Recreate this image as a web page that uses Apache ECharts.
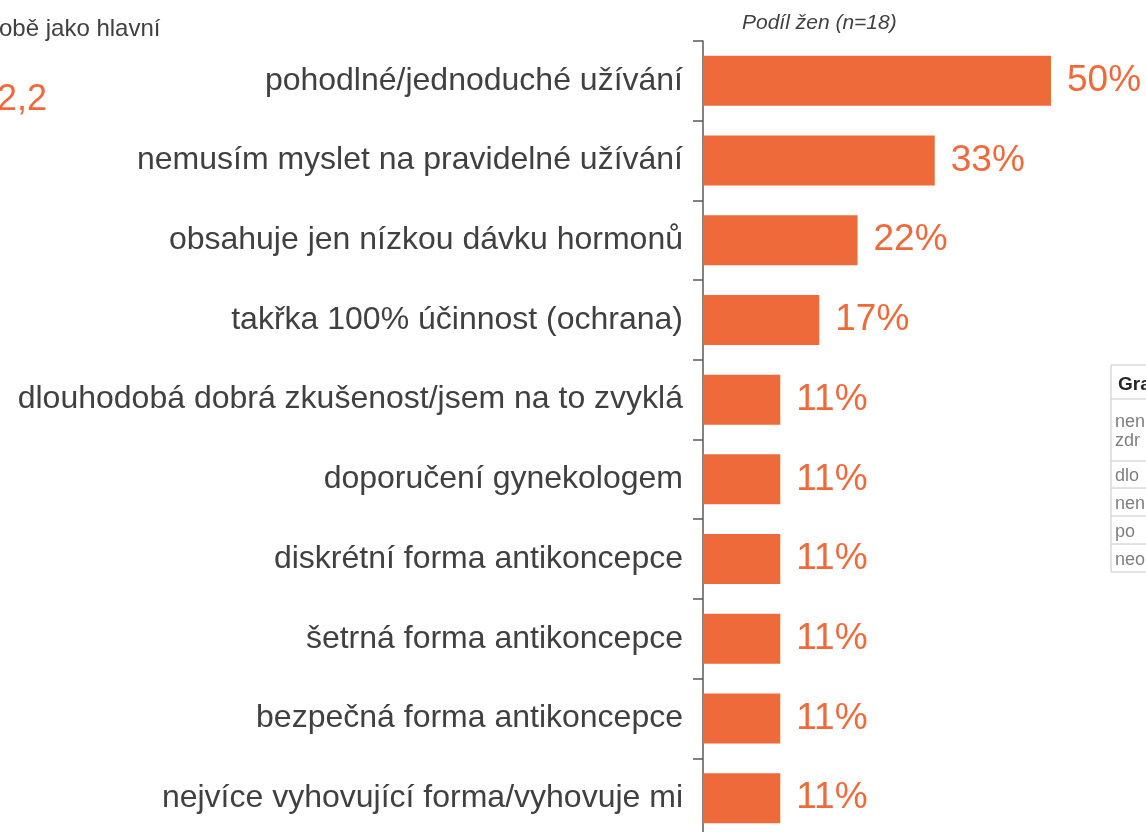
<!DOCTYPE html>
<html>
<head>
<meta charset="utf-8">
<script src="https://cdn.jsdelivr.net/npm/echarts@6/dist/echarts.min.js"></script>
<style>
  html, body { margin: 0; padding: 0; background: #fff; }
  #chart { width: 1146px; height: 832px; }
</style>
</head>
<body>
<div id="chart"></div>
<script>
// categories, top to bottom
var categories = [
    'pohodlné/jednoduché užívání',
    'nemusím myslet na pravidelné užívání',
    'obsahuje jen nízkou dávku hormonů',
    'takřka 100% účinnost (ochrana)',
    'dlouhodobá dobrá zkušenost/jsem na to zvyklá',
    'doporučení gynekologem',
    'diskrétní forma antikoncepce',
    'šetrná forma antikoncepce',
    'bezpečná forma antikoncepce',
    'nejvíce vyhovující forma/vyhovuje mi'
];
// share of women, % (n=18)
var shares = [50, 33.3, 22.2, 16.7, 11.1, 11.1, 11.1, 11.1, 11.1, 11.1];

var subtitleText = 'Podíl žen (n=18)';
var leftNote = 'obě jako hlavní';
var leftValue = '2,2';
// partially visible table on the right edge
var tableHeader = 'Gra';
var tableRows = [['nen', 'zdr'], ['dlo'], ['nen'], ['po'], ['neo']];

var ORANGE = '#EE6A3A';
var DARK = '#404040';
var FONT = '"Liberation Sans", Arial, sans-serif';

var chart = echarts.init(document.getElementById('chart'));

// table graphic (positions only, texts come from arrays above)
var rowLines = [365, 399, 461, 488, 516, 544, 572];
var tableEls = [
    { type: 'rect', shape: { x: 1111, y: rowLines[0], width: 60, height: rowLines[rowLines.length - 1] - rowLines[0] },
      style: { fill: 'none', stroke: '#c8c8c8', lineWidth: 1 } },
    { type: 'text', x: 1118, y: (rowLines[0] + rowLines[1]) / 2 + 3,
      style: { text: tableHeader, font: 'bold 19px ' + FONT, fill: '#262626', verticalAlign: 'middle' } }
];
for (var i = 1; i < rowLines.length - 1; i++) {
    tableEls.push({ type: 'line', shape: { x1: 1111, y1: rowLines[i], x2: 1171, y2: rowLines[i] },
        style: { stroke: '#c8c8c8', lineWidth: 1 } });
}
tableRows.forEach(function (row, r) {
    var mid = (rowLines[r + 1] + rowLines[r + 2]) / 2 + 2;
    row.forEach(function (t, k) {
        tableEls.push({ type: 'text', x: 1115, y: mid + (k - (row.length - 1) / 2) * 19,
            style: { text: t, font: '18px ' + FONT, fill: '#7f7f7f', verticalAlign: 'middle' } });
    });
});

chart.setOption({
    animation: false,
    backgroundColor: '#ffffff',
    // plot runs off the right and bottom edges, like the slide crop
    grid: { left: 703, top: 41, width: 696, height: 797, containLabel: false, outerBoundsMode: 'none' },
    xAxis: { type: 'value', min: 0, max: 100, show: false },
    yAxis: {
        type: 'category',
        inverse: true,
        data: categories,
        axisLine: { show: true, lineStyle: { color: '#595959', width: 1.5 } },
        axisTick: { show: true, length: 10, lineStyle: { color: '#595959', width: 1.5 } },
        axisLabel: { margin: 20, fontSize: 32, color: DARK, fontFamily: FONT }
    },
    series: [{
        type: 'bar',
        data: shares,
        barWidth: 50,
        itemStyle: { color: ORANGE },
        label: {
            show: true,
            position: 'right',
            distance: 16,
            fontSize: 37,
            fontFamily: FONT,
            color: ORANGE,
            formatter: function (p) { return Math.round(p.value) + '%'; }
        }
    }],
    graphic: [
        { type: 'text', left: 742, top: 13,
          style: { text: subtitleText, font: 'italic 21px ' + FONT, fill: DARK } },
        { type: 'text', left: -1, top: 17,
          style: { text: leftNote, font: '24px ' + FONT, fill: DARK } },
        { type: 'text', left: -3, top: 82,
          style: { text: leftValue, font: '36px ' + FONT, fill: ORANGE } }
    ].concat(tableEls)
});
</script>
</body>
</html>
